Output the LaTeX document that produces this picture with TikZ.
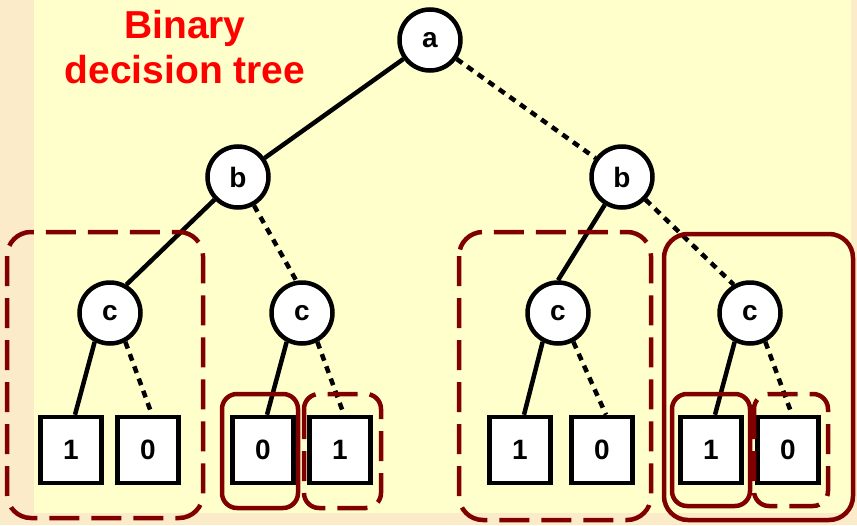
\documentclass[tikz,border=0pt]{standalone}
\usepackage{fontspec}
\setmainfont{Liberation Sans}
\usetikzlibrary{positioning}
\definecolor{hgGelb}{HTML}{FFFFCC}
\definecolor{hgRand}{HTML}{FCEBC9}
\definecolor{dunkelrot}{HTML}{800000}
\tikzset{
  knoten/.style={circle,draw,line width=4.5pt,fill=white,minimum size=61pt,inner sep=0pt,
    font=\fontsize{28}{28}\selectfont\bfseries},
  blatt/.style={rectangle,draw,line width=4.5pt,fill=white,minimum width=61pt,minimum height=66pt,
    inner sep=0pt,font=\fontsize{28}{28}\selectfont\bfseries},
  kante/.style={line width=4.5pt},
  nkante/.style={line width=4.5pt,dash pattern=on 7pt off 6pt},
  gruppe/.style={draw=dunkelrot,line width=4.5pt,rounded corners=24pt,dash pattern=on 30pt off 12pt},
  gruppeS/.style={draw=dunkelrot,line width=4.5pt,rounded corners=24pt},
}
\begin{document}
\begin{tikzpicture}[x=1pt,y=-1pt]
%Hintergrund mit Rand links und unten
\fill[hgRand] (0,0) rectangle (857,525);
\fill[hgGelb] (34,0) rectangle (851,513);
\useasboundingbox (0,0) rectangle (857,525);
\node[anchor=base,align=center,text=red,font=\fontsize{39}{45}\selectfont\bfseries] (titel) at (185,83) {Binary\\decision tree};
%Knoten
\node[knoten] (a) at (430,40) {a};
\node[knoten] (b1) at (238,177) {b};
\node[knoten] (b2) at (622,177) {b};
\foreach \x [count=\i] in {110,302,558,750}{
  \node[knoten] (c\i) at (\x,313) {c};
}
\foreach \x/\w [count=\i] in {71/1,148/0,263/0,340/1,520/1,602/0,711/1,788/0}{
  \node[blatt] (l\i) at (\x,450) {\w};
}
%Kanten: durchgezogen = 1, gestrichelt = 0
\draw[kante] (a) -- (b1);
\draw[nkante] (a) -- (b2);
\draw[kante] (b1) -- (c1.60);
\draw[nkante] (b1) -- (c2.100);
\draw[kante] (b2) -- (c3.north);
\draw[nkante] (b2) -- (c4.120);
\foreach \c/\l/\r in {c1/l1/l2,c2/l3/l4,c3/l5/l6,c4/l7/l8}{
  \draw[kante] (\c.-118) -- ([xshift=4pt]\l.north);
  \draw[nkante] (\c.-62) -- ([xshift=4pt]\r.north);
}
%Gruppen
\draw[gruppe] (7,232) rectangle (203,518);
\draw[gruppeS,rounded corners=15pt] (222,394) rectangle (298,508);
\draw[gruppe,rounded corners=15pt] (304,394) rectangle (381,508);
\draw[gruppe] (459,232) rectangle (651,520);
\draw[gruppeS] (664,234) rectangle (853,520);
\draw[gruppeS,rounded corners=15pt] (672,394) rectangle (750,506);
\draw[gruppe,rounded corners=15pt] (754,394) rectangle (828,506);
\end{tikzpicture}
\end{document}
